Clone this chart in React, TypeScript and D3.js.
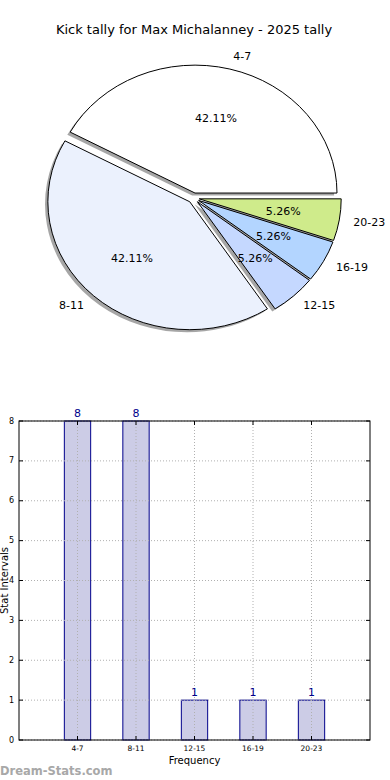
import React, { useEffect, useRef } from "react";
import * as d3 from "d3";

const categories = ["4-7", "8-11", "12-15", "16-19", "20-23"];
const tallies = [8, 8, 1, 1, 1];
const sliceColors = ["#ffffff", "#ebf1fd", "#c5d8ff", "#b3d5ff", "#cfeb8b"];
const yTicks = [0, 1, 2, 3, 4, 5, 6, 7, 8];

const title = "Kick tally for Max Michalanney - 2025 tally";

export default function App() {
  const ref = useRef<SVGSVGElement>(null);

  useEffect(() => {
    const svg = d3.select(ref.current);
    svg.selectAll("*").remove();
    const font = "DejaVu Sans, sans-serif";

    // title
    svg.append("text")
      .attr("x", 194)
      .attr("y", 34)
      .attr("text-anchor", "middle")
      .style("font-family", font)
      .style("font-size", "13px")
      .text(title);

    // ---- pie (matplotlib style: starts at 3 o'clock, counter-clockwise, elliptical)
    const cx = 193.6, cy = 198, rx = 142, ry = 128;
    const explode = 0.04;
    const total = d3.sum(tallies);

    const pie = d3.pie<number>().sort(null)
      .startAngle(Math.PI / 2)
      .endAngle(Math.PI / 2 - 2 * Math.PI);
    const arcs = pie(tallies);
    const arc = d3.arc<d3.PieArcDatum<number>>().innerRadius(0).outerRadius(1);

    const mid = (d: d3.PieArcDatum<number>) => (d.startAngle + d.endAngle) / 2;
    // unit direction in screen coords (d3 angle: 0 = up, clockwise)
    const dir = (a: number) => [Math.sin(a), -Math.cos(a)];

    const pieG = svg.append("g");

    // shadows first
    arcs.forEach((d) => {
      const [ux, uy] = dir(mid(d));
      const ox = cx + ux * explode * rx - 0.02 * rx;
      const oy = cy + uy * explode * ry + 0.02 * ry;
      pieG.append("path")
        .attr("transform", `translate(${ox},${oy}) scale(${rx},${ry})`)
        .attr("d", arc(d) as string)
        .attr("fill", "#4d4d4d")
        .attr("fill-opacity", 0.5);
    });

    arcs.forEach((d, i) => {
      const [ux, uy] = dir(mid(d));
      const ox = cx + ux * explode * rx;
      const oy = cy + uy * explode * ry;
      pieG.append("path")
        .attr("transform", `translate(${ox},${oy}) scale(${rx},${ry})`)
        .attr("d", arc(d) as string)
        .attr("fill", sliceColors[i])
        .attr("stroke", "#000")
        .attr("stroke-width", 1)
        .attr("vector-effect", "non-scaling-stroke");

      const lx = ox + ux * 1.1 * rx;
      const ly = oy + uy * 1.1 * ry;
      pieG.append("text")
        .attr("x", lx)
        .attr("y", ly)
        .attr("text-anchor", ux > 0 ? "start" : "end")
        .attr("dominant-baseline", "central")
        .style("font-family", font)
        .style("font-size", "11px")
        .text(categories[i]);

      const px = ox + ux * 0.6 * rx;
      const py = oy + uy * 0.6 * ry;
      pieG.append("text")
        .attr("x", px)
        .attr("y", py)
        .attr("text-anchor", "middle")
        .attr("dominant-baseline", "central")
        .style("font-family", font)
        .style("font-size", "11px")
        .text(((d.data / total) * 100).toFixed(2) + "%");
    });

    // ---- bar chart
    const left = 19, right = 370, top = 421, bottom = 740;
    const xScale = d3.scaleLinear().domain([0, categories.length + 1]).range([left, right]);
    const yScale = d3.scaleLinear().domain([0, 8]).range([bottom, top]);
    const barW = 0.45;

    const barG = svg.append("g");

    barG.selectAll("rect.bar")
      .data(tallies)
      .enter()
      .append("rect")
      .attr("class", "bar")
      .attr("x", (d, i) => xScale(i + 1 - barW / 2))
      .attr("y", (d) => yScale(d))
      .attr("width", xScale(barW) - xScale(0))
      .attr("height", (d) => yScale(0) - yScale(d))
      .attr("fill", "#cccce6")
      .attr("stroke", "#00008b")
      .attr("stroke-width", 1);

    // grid on top
    yTicks.forEach((t) => {
      barG.append("line")
        .attr("x1", left).attr("x2", right)
        .attr("y1", yScale(t)).attr("y2", yScale(t))
        .attr("stroke", "#b0b0b0")
        .attr("stroke-dasharray", "1,2");
    });
    categories.forEach((c, i) => {
      barG.append("line")
        .attr("x1", xScale(i + 1)).attr("x2", xScale(i + 1))
        .attr("y1", top).attr("y2", bottom)
        .attr("stroke", "#b0b0b0")
        .attr("stroke-dasharray", "1,2");
    });

    // frame
    barG.append("rect")
      .attr("x", left).attr("y", top)
      .attr("width", right - left).attr("height", bottom - top)
      .attr("fill", "none")
      .attr("stroke", "#000");

    // ticks
    yTicks.forEach((t) => {
      barG.append("line").attr("x1", left).attr("x2", left + 4)
        .attr("y1", yScale(t)).attr("y2", yScale(t)).attr("stroke", "#000");
      barG.append("line").attr("x1", right - 4).attr("x2", right)
        .attr("y1", yScale(t)).attr("y2", yScale(t)).attr("stroke", "#000");
      barG.append("text")
        .attr("x", left - 5)
        .attr("y", yScale(t))
        .attr("text-anchor", "end")
        .attr("dominant-baseline", "central")
        .style("font-family", font)
        .style("font-size", "8px")
        .text(t);
    });
    categories.forEach((c, i) => {
      const x = xScale(i + 1);
      barG.append("line").attr("x1", x).attr("x2", x)
        .attr("y1", bottom).attr("y2", bottom - 4).attr("stroke", "#000");
      barG.append("line").attr("x1", x).attr("x2", x)
        .attr("y1", top).attr("y2", top + 4).attr("stroke", "#000");
      barG.append("text")
        .attr("x", x)
        .attr("y", bottom + 11)
        .attr("text-anchor", "middle")
        .style("font-family", font)
        .style("font-size", "7.5px")
        .text(c);
      barG.append("text")
        .attr("x", x)
        .attr("y", yScale(tallies[i]) - 4)
        .attr("text-anchor", "middle")
        .attr("fill", "#00008b")
        .style("font-family", font)
        .style("font-size", "11px")
        .text(tallies[i]);
    });

    // axis labels
    svg.append("text")
      .attr("x", (left + right) / 2)
      .attr("y", 764)
      .attr("text-anchor", "middle")
      .style("font-family", font)
      .style("font-size", "10px")
      .text("Frequency");

    svg.append("text")
      .attr("transform", `translate(8,${(top + bottom) / 2}) rotate(-90)`)
      .attr("text-anchor", "middle")
      .style("font-family", font)
      .style("font-size", "10px")
      .text("Stat Intervals");

    // watermark
    svg.append("text")
      .attr("x", 0)
      .attr("y", 775)
      .style("font-family", font)
      .style("font-size", "11.5px")
      .style("font-weight", "bold")
      .attr("fill", "#a8a8a8")
      .text("Dream-Stats.com");
  }, []);

  return (
    <div style={{ position: "absolute", left: 0, top: 0 }}>
      <svg ref={ref} width={390} height={780} style={{ display: "block", background: "#fff" }}></svg>
    </div>
  );
}
